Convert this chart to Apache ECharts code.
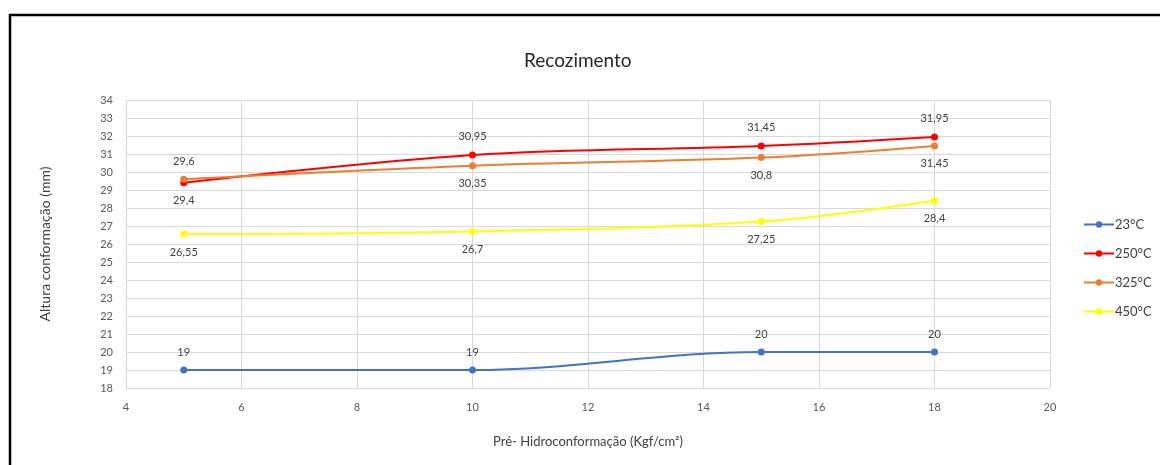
<!DOCTYPE html>
<html>
<head>
<meta charset="utf-8">
<script src="https://cdn.jsdelivr.net/npm/echarts@6/dist/echarts.min.js"></script>
<style>
html,body{margin:0;padding:0;background:#fff;}
#chart{width:1160px;height:465px;}
</style>
</head>
<body>
<div id="chart"></div>
<script>
var xValues = [5, 10, 15, 18];
var seriesNames = ['23°C', '250°C', '325°C', '450°C'];
var s23 = [19, 19, 20, 20];
var s250 = [29.4, 30.95, 31.45, 31.95];
var s325 = [29.6, 30.35, 30.8, 31.45];
var s450 = [26.55, 26.7, 27.25, 28.4];
var colors = ['#4472C4', '#FF0000', '#ED7D31', '#FFFF00'];
var labelPos = [
  ['top', 'top', 'top', 'top'],
  ['bottom', 'top', 'top', 'top'],
  ['top', 'bottom', 'bottom', 'bottom'],
  ['bottom', 'bottom', 'bottom', 'bottom']
];
var allValues = [s23, s250, s325, s450];
var FONT = 'Lato, "Liberation Sans", sans-serif';

function fmt(v) { return String(v).replace('.', ','); }

var series = allValues.map(function (vals, si) {
  return {
    name: seriesNames[si],
    type: 'line',
    smooth: 0.35,
    symbol: 'circle',
    symbolSize: 7,
    lineStyle: { width: 2, color: colors[si] },
    itemStyle: { color: colors[si] },
    data: vals.map(function (v, i) {
      return {
        value: [xValues[i], v],
        label: {
          show: true,
          position: labelPos[si][i],
          distance: 9,
          formatter: function () { return fmt(v); },
          color: '#404040',
          fontSize: 11,
          fontFamily: FONT
        }
      };
    })
  };
});

var chart = echarts.init(document.getElementById('chart'));
chart.setOption({
  animation: false,
  backgroundColor: '#fff',
  graphic: [{
    type: 'rect',
    shape: { x: 10, y: 15, width: 1300, height: 600 },
    style: { fill: 'none', stroke: '#000', lineWidth: 2.5 },
    silent: true
  }],
  title: {
    text: 'Recozimento',
    left: 519,
    top: 46,
    textStyle: { fontSize: 19, fontWeight: 'normal', color: '#262626', fontFamily: FONT }
  },
  legend: {
    orient: 'vertical',
    left: 1078,
    top: 213,
    itemWidth: 30,
    itemHeight: 8,
    itemGap: 16,
    data: seriesNames,
    textStyle: { fontSize: 13, color: '#404040', fontFamily: FONT, padding: [0, 0, 0, -4] }
  },
  grid: { left: 126, right: 110, top: 100, bottom: 77, containLabel: false },
  xAxis: {
    type: 'value',
    min: 4, max: 20, interval: 2,
    name: 'Pré- Hidroconformação (Kgf/cm²)',
    nameLocation: 'middle',
    nameGap: 47,
    nameTextStyle: { fontSize: 13, color: '#404040', fontFamily: FONT },
    axisLine: { show: true, lineStyle: { color: '#d9d9d9' } },
    axisTick: { show: false },
    axisLabel: { fontSize: 11, color: '#595959', fontFamily: FONT, margin: 14 },
    splitLine: { show: true, lineStyle: { color: '#d9d9d9' } }
  },
  yAxis: {
    type: 'value',
    min: 18, max: 34, interval: 1,
    name: 'Altura conformação (mm)',
    nameLocation: 'middle',
    nameGap: 74,
    nameTextStyle: { fontSize: 14, color: '#404040', fontFamily: FONT },
    axisLine: { show: false },
    axisTick: { show: false },
    axisLabel: { fontSize: 11, color: '#595959', fontFamily: FONT, margin: 13 },
    splitLine: { show: true, lineStyle: { color: '#d9d9d9' } }
  },
  series: series
});
</script>
</body>
</html>
